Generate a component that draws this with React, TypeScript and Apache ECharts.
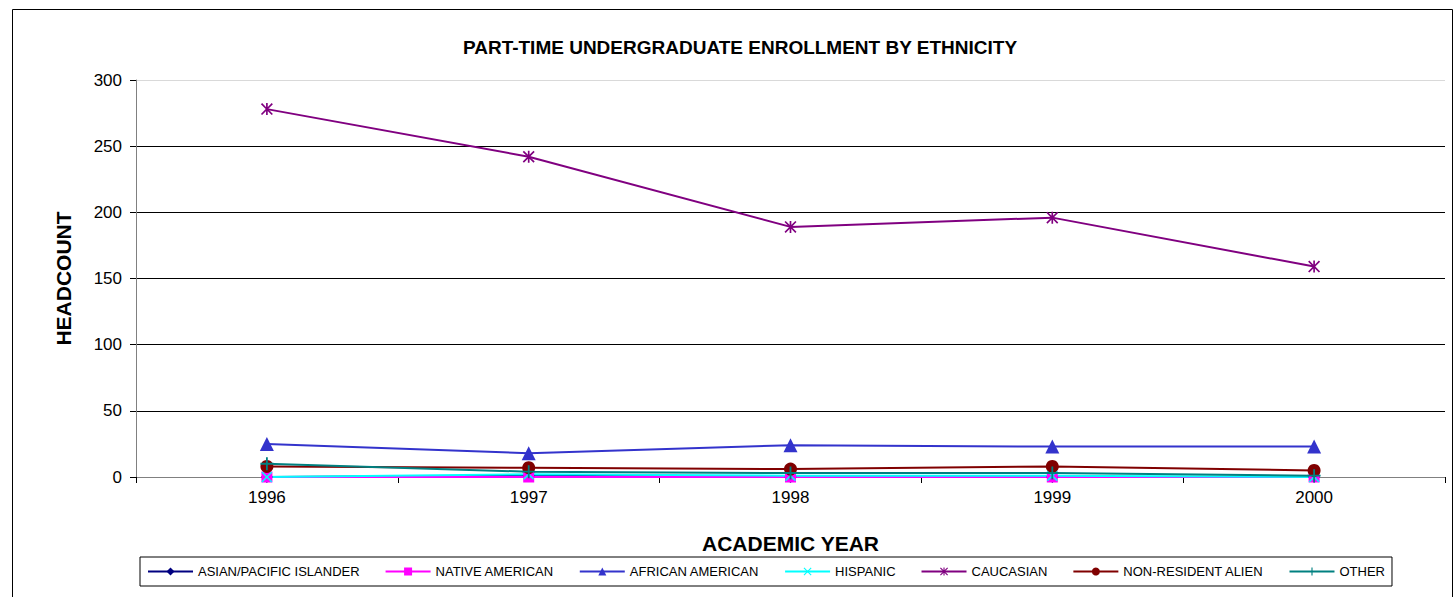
import React, { useEffect, useRef } from "react";
import * as echarts from "echarts";

const years = ["1996", "1997", "1998", "1999", "2000"];
const asianPacific = [0, 1, 0, 0, 0];
const nativeAmerican = [0, 0, 0, 0, 0];
const africanAmerican = [25, 18, 24, 23, 23];
const hispanic = [0, 2, 1, 1, 0];
const caucasian = [278, 242, 189, 196, 159];
const nonResidentAlien = [8, 7, 6, 8, 5];
const other = [10, 4, 3, 3, 1];
const yTicks = [0, 50, 100, 150, 200, 250, 300];

const X_PATH = "path://M0,1L1,0L5,4L9,0L10,1L6,5L10,9L9,10L5,6L1,10L0,9L4,5Z";
const STAR_PATH = "path://M0,1L1,0L5,4L9,0L10,1L6,5L10,9L9,10L5,6L1,10L0,9L4,5ZM4.3,0L5.7,0L5.7,10L4.3,10Z";
const PLUS_PATH = "path://M4.3,0H5.7V4.3H10V5.7H5.7V10H4.3V5.7H0V4.3H4.3Z";

export default function App() {
  const ref = useRef<HTMLDivElement>(null);
  useEffect(() => {
    if (!ref.current) return;
    const chart = echarts.init(ref.current, null, { renderer: "svg" });
    const font = "Arial, 'Liberation Sans', sans-serif";
    const mk = (name: string, data: number[], color: string, symbol: string, size: number) => ({
      name,
      type: "line",
      data,
      symbol,
      symbolSize: size,
      showAllSymbol: true,
      lineStyle: { color, width: 2 },
      itemStyle: { color },
      emphasis: { disabled: true },
    });
    chart.setOption({
      animation: false,
      textStyle: { fontFamily: font },
      graphic: [
        {
          type: "rect",
          shape: { x: 12.5, y: 9.5, width: 1440, height: 620 },
          style: { fill: "none", stroke: "#000", lineWidth: 1 },
          silent: true,
        },
        {
          type: "text",
          x: 740,
          y: 47,
          style: {
            text: "PART-TIME UNDERGRADUATE ENROLLMENT BY ETHNICITY",
            font: `bold 19px ${font}`,
            fill: "#000",
            align: "center",
            verticalAlign: "middle",
          },
        },
      ],
      legend: {
        left: 140,
        top: 557,
        padding: [8, 7, 8, 7],
        itemWidth: 45,
        itemHeight: 10,
        itemGap: 25,
        borderColor: "#000",
        borderWidth: 1,
        textStyle: { fontSize: 13, color: "#000", fontFamily: font },
        data: [
          "ASIAN/PACIFIC ISLANDER",
          "NATIVE AMERICAN",
          "AFRICAN AMERICAN",
          "HISPANIC",
          "CAUCASIAN",
          "NON-RESIDENT ALIEN",
          "OTHER",
        ],
      },
      grid: { left: 136, right: 8, top: 80, bottom: 120, containLabel: false },
      xAxis: {
        type: "category",
        data: years,
        boundaryGap: true,
        name: "ACADEMIC YEAR",
        nameLocation: "middle",
        nameGap: 56,
        nameTextStyle: { fontSize: 21, fontWeight: "bold", color: "#000" },
        axisLine: { lineStyle: { color: "#808080", width: 1 } },
        axisTick: { show: true, length: 6, lineStyle: { color: "#000" } },
        axisLabel: { fontSize: 17, color: "#000", margin: 12 },
        splitLine: { show: false },
      },
      yAxis: {
        type: "value",
        min: yTicks[0],
        max: yTicks[yTicks.length - 1],
        interval: 50,
        name: "HEADCOUNT",
        nameLocation: "middle",
        nameRotate: 90,
        nameGap: 62,
        nameTextStyle: { fontSize: 21, fontWeight: "bold", color: "#000" },
        axisLine: { show: true, lineStyle: { color: "#808080", width: 1 } },
        axisTick: { show: true, length: 6, lineStyle: { color: "#000" } },
        axisLabel: { fontSize: 17, color: "#000", margin: 14 },
        splitLine: {
          show: true,
          lineStyle: {
            color: ["#000", "#000", "#000", "#000", "#000", "#000", "#d9d9d9"],
            width: 1,
          },
        },
      },
      series: [
        mk("ASIAN/PACIFIC ISLANDER", asianPacific, "#000080", "diamond", 12),
        mk("NATIVE AMERICAN", nativeAmerican, "#FF00FF", "rect", 11),
        mk("AFRICAN AMERICAN", africanAmerican, "#3333CC", "triangle", 14),
        mk("HISPANIC", hispanic, "#00FFFF", X_PATH, 11),
        mk("CAUCASIAN", caucasian, "#800080", STAR_PATH, 12),
        mk("NON-RESIDENT ALIEN", nonResidentAlien, "#800000", "circle", 13),
        mk("OTHER", other, "#008080", PLUS_PATH, 13),
      ],
    });
    return () => chart.dispose();
  }, []);
  return (
    <div
      ref={ref}
      style={{ position: "fixed", left: 0, top: 0, width: 1453, height: 597, background: "#fff" }}
    />
  );
}
